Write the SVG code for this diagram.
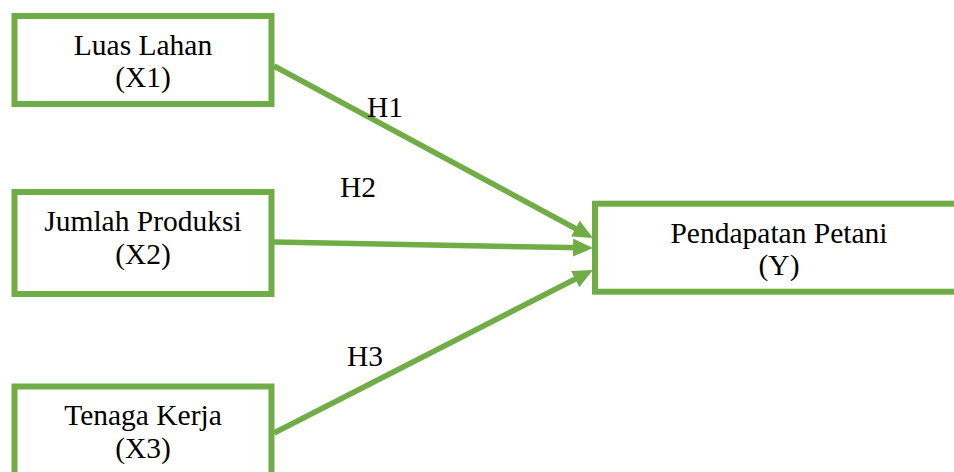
<svg xmlns="http://www.w3.org/2000/svg" width="954" height="472" viewBox="0 0 954 472">
<style>
.box{fill:#fff;stroke:#70AD47;stroke-width:6}
.t{font-family:"Liberation Serif","Times New Roman",serif;font-size:29.5px;fill:#000;text-anchor:middle}
.lbl{font-family:"Liberation Serif","Times New Roman",serif;font-size:29.5px;fill:#000}
.c{stroke:#70AD47;stroke-width:5.5;fill:none}
</style>
<defs>
<marker id="ah" markerUnits="userSpaceOnUse" markerWidth="22" markerHeight="18" refX="10" refY="9" orient="auto">
<path d="M0,0 L20,9 L0,18 Z" fill="#70AD47"/>
</marker>
</defs>
<rect width="954" height="472" fill="#fff"/>
<g id="connectors">
<line class="c" x1="274" y1="66" x2="584.2" y2="233.25" marker-end="url(#ah)"/>
<line class="c" x1="274" y1="242" x2="583" y2="247.8" marker-end="url(#ah)"/>
<line class="c" x1="274" y1="433" x2="584.1" y2="274.55" marker-end="url(#ah)"/>
<text class="lbl" x="367" y="117">H1</text>
<text class="lbl" x="340" y="197">H2</text>
<text class="lbl" x="347" y="366">H3</text>
</g>
<g id="x1">
<rect class="box" x="14.5" y="16" width="257" height="88"/>
<text class="t" x="143" y="55">Luas Lahan</text>
<text class="t" x="143" y="87">(X1)</text>
</g>
<g id="x2">
<rect class="box" x="14.5" y="192" width="257" height="102"/>
<text class="t" x="143" y="231">Jumlah Produksi</text>
<text class="t" x="143" y="264">(X2)</text>
</g>
<g id="x3">
<rect class="box" x="14.5" y="386.5" width="257" height="100"/>
<text class="t" x="143" y="425">Tenaga Kerja</text>
<text class="t" x="143" y="458">(X3)</text>
</g>
<g id="y">
<rect class="box" x="595" y="203.7" width="368" height="88"/>
<text class="t" x="779" y="243">Pendapatan Petani</text>
<text class="t" x="779" y="275">(Y)</text>
</g>
</svg>
